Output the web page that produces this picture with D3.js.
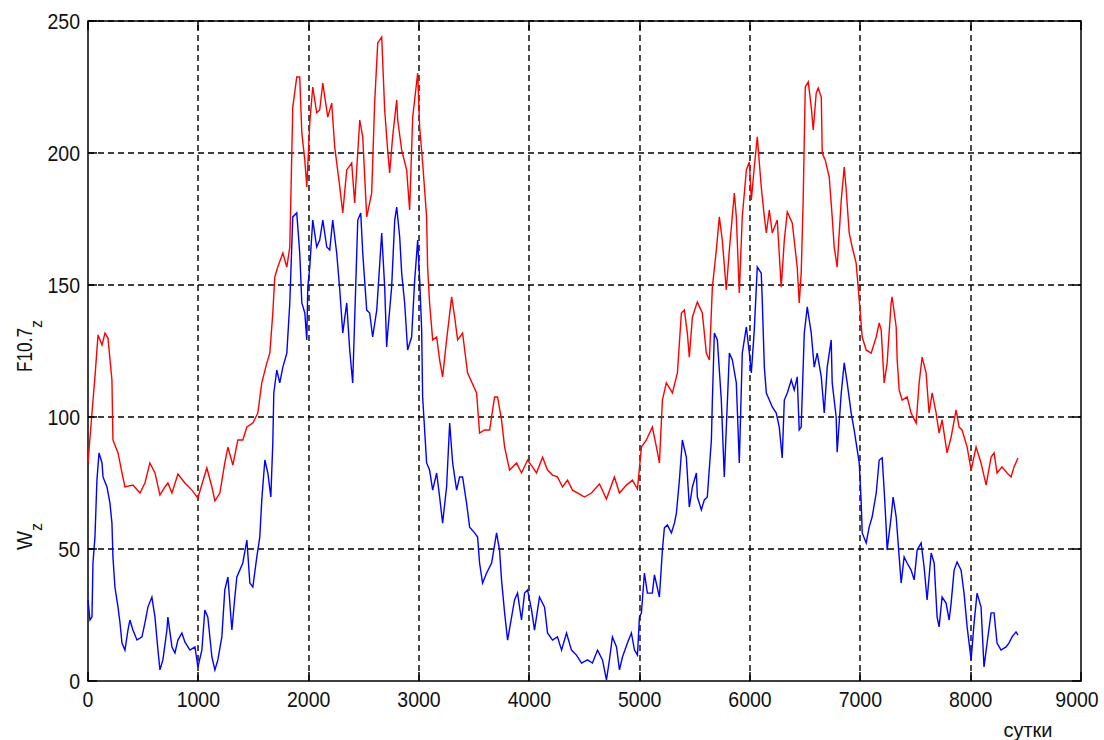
<!DOCTYPE html>
<html>
<head>
<meta charset="utf-8">
<script src="https://cdn.jsdelivr.net/npm/d3@7"></script>
<style>
  html, body { margin: 0; padding: 0; background: #fff; }
  svg { display: block; }
  text { font-family: "Liberation Sans", Arial, sans-serif; fill: #111; }
</style>
</head>
<body>
<svg id="chart" width="1104" height="740"></svg>
<script>
// Daily index F10.7 (upper curve) and sunspot number W (lower curve), in days
const f107Days = [0,36,63,91,127,154,181,217,226,272,308,335,407,471,516,561,607,652,697,724,761,815,878,942,996,
  1077,1123,1150,1195,1240,1268,1313,1358,1403,1440,1494,1539,1575,1621,1648,1675,1693,1720,1766,1802,1829,1856,
  1892,1919,1938,1965,1983,2010,2037,2073,2100,2128,2173,2209,2236,2282,2309,2345,2390,2417,2463,2490,2526,2571,
  2598,2626,2662,2689,2716,2734,2761,2798,2807,2843,2888,2915,2943,2988,3006,3033,3069,3078,3096,3124,3160,3187,
  3214,3250,3296,3323,3350,3395,3440,3522,3549,3594,3640,3685,3712,3748,3776,3821,3884,3929,3984,4029,4065,4120,
  4165,4210,4255,4301,4346,4391,4455,4500,4563,4636,4699,4771,4817,4880,4934,4980,5016,5061,5115,5152,5179,5206,
  5242,5297,5342,5378,5405,5432,5450,5478,5523,5568,5604,5632,5659,5695,5722,5749,5785,5813,5858,5876,5903,5930,
  5967,5994,6012,6039,6066,6102,6130,6148,6175,6202,6247,6283,6311,6338,6383,6428,6446,6464,6482,6501,6528,6555,
  6573,6600,6618,6646,6655,6682,6718,6745,6763,6790,6827,6854,6872,6899,6926,6962,6990,7017,7053,7098,7144,7171,
  7189,7216,7243,7279,7288,7325,7334,7352,7379,7424,7460,7506,7533,7560,7596,7623,7651,7687,7714,7741,7786,7823,
  7868,7895,7922,7968,8004,8049,8094,8140,8185,8212,8239,8284,8330,8366,8393,8429];
const f107Vals = [82.6,101.5,115.2,131.1,127.3,131.8,129.9,114.0,91.3,86.4,78.8,73.5,74.2,71.2,75.0,82.6,78.8,70.5,
  73.5,75.0,71.2,78.4,75.0,72.3,69.3,80.7,73.5,68.2,71.2,82.6,88.6,81.8,91.3,91.3,96.2,97.7,101.5,112.9,120.5,
  124.2,139.4,153.0,156.8,162.1,156.8,164.4,217.4,228.8,228.8,207.6,197.3,187.1,211.4,225.0,215.2,216.3,226.5,
  213.6,218.9,202.3,187.1,177.3,193.6,196.2,181.1,212.5,206.1,175.8,184.8,218.9,241.7,243.9,216.3,201.1,192.4,
  206.1,220.1,212.5,201.1,193.6,178.4,213.6,230.3,209.8,196.2,175.8,156.8,143.2,129.2,130.3,121.6,115.2,129.2,
  145.5,137.9,129.2,131.8,116.7,109.1,93.9,95.1,95.1,107.6,107.6,98.9,88.6,79.9,82.6,78.8,83.7,81.1,78.8,84.8,
  79.9,78.0,77.3,73.5,76.1,72.3,70.8,69.7,71.2,74.6,68.9,77.3,71.2,74.2,76.1,72.7,88.6,91.3,96.2,88.6,82.6,106.4,
  112.9,109.1,116.7,139.4,140.5,131.8,122.7,137.9,143.6,139.4,124.2,121.6,149.2,163.3,175.8,167.0,148.1,163.3,
  184.8,175.8,147.0,175.8,193.6,196.6,182.2,194.7,206.1,187.1,175.8,169.7,178.4,169.7,174.6,149.2,167.0,177.7,
  173.5,156.8,143.2,154.5,182.2,225.0,226.9,217.4,208.7,222.7,224.6,221.2,200.0,197.3,190.9,175.8,164.4,156.8,
  182.2,194.7,186.0,169.7,164.4,158.3,144.3,130.3,125.4,124.2,130.3,135.6,133.0,112.9,120.5,143.2,145.5,134.1,
  121.6,110.2,106.4,107.6,101.5,97.7,112.9,122.7,116.7,101.5,109.1,101.5,93.9,98.9,86.4,92.4,102.7,96.2,95.1,
  88.6,79.9,88.6,82.6,74.2,84.8,86.4,78.8,81.1,78.8,77.3,81.1,84.5];

const wDays = [0,18,36,45,63,81,100,127,136,172,199,217,226,244,272,290,308,335,362,380,407,444,489,516,543,579,607,
  634,652,679,715,724,761,788,815,851,878,924,969,987,996,1032,1059,1086,1123,1150,1177,1213,1240,1268,1304,1331,
  1349,1376,1403,1440,1467,1494,1530,1557,1575,1603,1630,1657,1675,1684,1711,1738,1766,1802,1829,1856,1892,1919,
  1938,1965,1983,1992,2010,2037,2073,2100,2128,2164,2191,2218,2254,2282,2309,2345,2372,2399,2445,2472,2490,2526,
  2553,2580,2617,2662,2689,2707,2716,2752,2780,2798,2825,2843,2870,2897,2933,2961,2988,3006,3024,3033,3069,3096,
  3124,3160,3187,3214,3250,3278,3305,3341,3368,3395,3431,3459,3504,3531,3549,3576,3613,3658,3703,3730,3748,3776,
  3803,3839,3866,3893,3929,3957,3984,4020,4047,4092,4138,4165,4210,4255,4292,4337,4382,4427,4473,4527,4572,4618,
  4663,4699,4726,4753,4790,4817,4844,4889,4925,4953,4980,4998,5016,5043,5070,5115,5134,5179,5206,5224,5251,5288,
  5315,5333,5360,5387,5423,5450,5478,5514,5523,5559,5586,5613,5650,5659,5677,5704,5740,5767,5813,5840,5876,5903,
  5930,5967,5994,6012,6039,6066,6102,6111,6130,6148,6175,6202,6238,6265,6292,6311,6338,6374,6401,6428,6446,6464,
  6492,6519,6555,6582,6609,6646,6673,6700,6736,6745,6781,6790,6827,6854,6881,6917,6944,6962,6990,7008,7017,7053,
  7080,7107,7144,7171,7198,7216,7234,7243,7279,7297,7325,7352,7370,7397,7424,7460,7488,7515,7551,7578,7605,7642,
  7669,7696,7714,7741,7777,7805,7823,7850,7877,7913,7940,7968,8004,8031,8058,8094,8121,8149,8185,8212,8239,8275,
  8321,8348,8375,8411,8429];
const wVals = [30.7,23.1,24.2,44.7,54.5,76.1,86.4,82.6,77.3,73.5,67.4,59.8,47.0,35.6,28.0,22.0,14.4,11.7,19.3,23.1,
  19.3,15.5,16.7,22.0,28.0,31.8,24.2,11.7,4.2,8.0,19.3,24.2,12.9,10.6,15.5,18.2,14.8,11.7,12.9,8.0,5.3,11.7,26.9,
  24.2,9.1,4.2,8.0,16.7,34.5,39.4,19.3,31.8,39.4,42.0,44.7,53.4,37.1,35.6,47.0,54.5,68.6,83.7,78.8,69.7,90.2,109.1,
  117.8,112.9,118.9,124.2,143.2,175.8,177.3,162.1,143.2,139.4,129.2,149.2,156.8,174.6,164.4,167.0,174.6,164.4,
  163.3,174.6,162.1,148.1,131.8,143.2,125.4,112.9,174.6,177.3,162.1,140.5,139.4,130.3,140.5,169.7,149.2,126.5,
  131.8,149.2,174.6,179.5,168.2,154.5,143.2,125.4,130.3,151.9,167.0,151.9,133.0,107.6,82.6,79.9,72.3,78.8,69.7,
  59.8,73.5,97.7,82.6,72.3,77.3,77.3,67.4,58.3,56.1,54.5,44.7,37.1,40.9,44.7,56.1,49.6,38.3,25.8,15.5,24.2,30.7,
  33.3,23.1,33.3,34.5,26.9,19.3,31.8,28.0,18.2,15.5,16.7,11.7,18.2,11.7,9.8,6.8,8.0,6.8,11.7,8.0,0.4,8.0,16.7,12.9,
  4.2,9.1,14.4,18.2,11.7,9.8,24.2,25.8,40.9,33.3,33.3,40.2,31.8,49.6,58.0,59.1,56.1,59.8,63.6,76.1,91.3,84.8,65.9,
  73.5,78.8,69.7,64.8,68.6,69.7,91.3,106.4,131.8,129.2,106.4,77.3,124.2,121.6,112.9,82.6,124.2,134.1,124.2,116.7,
  133.0,156.8,154.5,144.3,118.9,109.1,106.4,103.8,101.5,96.2,84.5,106.4,109.1,114.0,110.2,115.2,95.1,96.2,131.8,
  141.7,131.8,118.9,124.2,115.2,101.5,118.9,129.2,112.9,100.0,86.7,109.1,120.5,112.9,101.5,95.1,90.2,82.6,67.4,
  56.1,52.3,58.3,62.1,71.2,83.7,84.5,72.3,58.3,49.6,62.1,69.7,62.1,47.0,37.1,47.0,44.7,42.0,38.3,49.6,52.3,43.2,
  30.7,48.5,44.7,24.2,20.5,31.8,29.5,23.1,29.5,42.0,45.1,42.0,33.3,20.5,8.0,22.0,33.3,28.0,5.3,14.4,25.8,25.8,
  14.4,11.7,12.9,14.4,16.7,18.6,17.4];

const xTicks = [0, 1000, 2000, 3000, 4000, 5000, 6000, 7000, 8000, 9000];
const yTicks = [0, 50, 100, 150, 200, 250];
const xLabel = "сутки";

const svg = d3.select("#chart");
const x = d3.scaleLinear().domain([0, 9000]).range([88, 1081]);
const y = d3.scaleLinear().domain([0, 250]).range([681, 21]);
const [x0, x1] = x.range();
const [y0, y1] = y.range();

svg.append("rect").attr("width", 1104).attr("height", 740).attr("fill", "#fff");

// axes box
svg.append("rect").attr("x", x0).attr("y", y1).attr("width", x1 - x0).attr("height", y0 - y1)
  .attr("fill", "none").attr("stroke", "#000").attr("stroke-width", 1.5);

// dashed grid
const grid = svg.append("g").attr("stroke", "#000").attr("stroke-width", 1.4)
  .attr("stroke-dasharray", "6,4").attr("fill", "none");
grid.selectAll(".gx").data(xTicks.filter(t => t > 0 && t < 9000)).join("line")
  .attr("x1", d => Math.round(x(d))).attr("x2", d => Math.round(x(d)))
  .attr("y1", y0).attr("y2", y1);
grid.selectAll(".gy").data(yTicks.filter(t => t > 0)).join("line")
  .attr("y1", d => Math.round(y(d))).attr("y2", d => Math.round(y(d)))
  .attr("x1", x0).attr("x2", x1);

// series
const fPts = f107Days.map((d, i) => [d, f107Vals[i]]);
const wPts = wDays.map((d, i) => [d, wVals[i]]);
const line = d3.line().x(d => x(d[0])).y(d => y(d[1])).curve(d3.curveLinear);
svg.append("path").datum(fPts).attr("d", line)
  .attr("fill", "none").attr("stroke", "#ff0000").attr("stroke-width", 1.4);
svg.append("path").datum(wPts).attr("d", line)
  .attr("fill", "none").attr("stroke", "#0000ff").attr("stroke-width", 1.4);

// inward ticks on all four sides
const tl = 9;
const ticks = svg.append("g").attr("stroke", "#000").attr("stroke-width", 1.5);
xTicks.forEach(t => {
  const px = Math.round(x(t));
  ticks.append("line").attr("x1", px).attr("x2", px).attr("y1", y0).attr("y2", y0 - tl);
  ticks.append("line").attr("x1", px).attr("x2", px).attr("y1", y1).attr("y2", y1 + tl);
});
yTicks.forEach(t => {
  const py = Math.round(y(t));
  ticks.append("line").attr("x1", x0).attr("x2", x0 + tl).attr("y1", py).attr("y2", py);
  ticks.append("line").attr("x1", x1).attr("x2", x1 - tl).attr("y1", py).attr("y2", py);
});

// tick labels: slightly tall digits
svg.append("g").selectAll("text").data(xTicks).join("text")
  .attr("transform", d => `translate(${x(d) - (d === 9000 ? 4 : 0)},707) scale(1,1.15)`)
  .attr("text-anchor", "middle").attr("font-size", 19.5)
  .text(d => d);
svg.append("g").selectAll("text").data(yTicks).join("text")
  .attr("transform", d => `translate(80,${y(d) + 8}) scale(1,1.15)`)
  .attr("text-anchor", "end").attr("font-size", 19.5)
  .text(d => d);

// x axis title
svg.append("text").attr("x", 1028).attr("y", 737).attr("text-anchor", "middle")
  .attr("font-size", 20).text(xLabel);

// y axis titles with subscripts
function yTitle(main, sub, px, py, len) {
  const t = svg.append("text").attr("transform", `translate(${px},${py}) rotate(-90)`)
    .attr("font-size", 22);
  const m = t.append("tspan").text(main);
  if (len) m.attr("textLength", len).attr("lengthAdjust", "spacingAndGlyphs");
  t.append("tspan").attr("font-size", 16).attr("dy", 10).text(sub);
}
yTitle("F10.7", "z", 32, 372, 44);
yTitle("W", "z", 32, 550, 19);
</script>
</body>
</html>
